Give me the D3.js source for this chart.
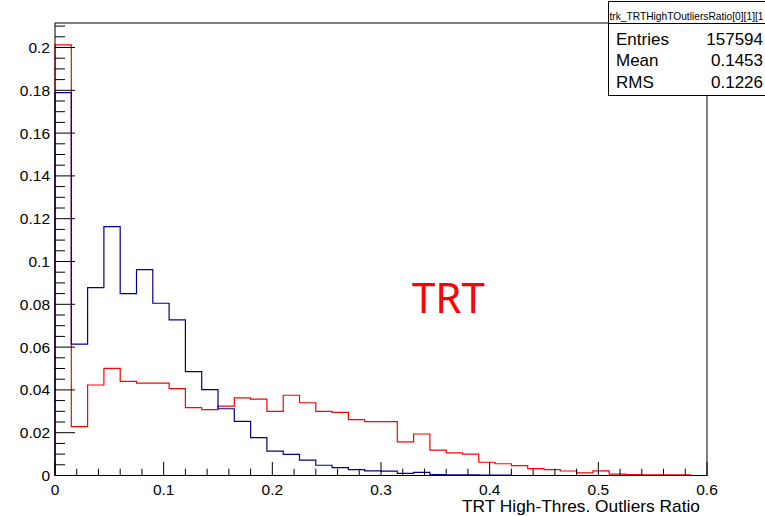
<!DOCTYPE html>
<html><head><meta charset="utf-8">
<script src="https://cdn.jsdelivr.net/npm/d3@7"></script>
<style>body{margin:0;background:#fff}svg{display:block}</style>
</head><body><svg id="c" width="765" height="516" font-family="'Liberation Sans',Arial,sans-serif"></svg>
<script>
const binWidth = 0.015;
const xTickLabels = ["0","0.1","0.2","0.3","0.4","0.5","0.6"];
const yTickLabels = ["0","0.02","0.04","0.06","0.08","0.1","0.12","0.14","0.16","0.18","0.2"];
const redValues = [0.2012,0.0228,0.0423,0.0501,0.0440,0.0432,0.0432,0.0406,0.0317,0.0308,
  0.0324,0.0363,0.0357,0.0300,0.0375,0.0340,0.0300,0.0295,0.0261,0.0252,
  0.0252,0.0157,0.0194,0.0119,0.0106,0.0100,0.0062,0.0055,0.0046,0.0032,
  0.0027,0.0021,0.0012,0.0022,0.0006,0.0004,0.0003,0.0003,0.0003,0];
const blueValues = [0.1789,0.0614,0.0878,0.1163,0.0850,0.0962,0.0805,0.0727,0.0485,0.0401,
  0.0312,0.0253,0.0177,0.0114,0.0099,0.0072,0.0048,0.0037,0.0027,0.0022,
  0.0020,0.0010,0.0015,0.0004,0.0003,0.0003,0.0002,0.0002,0,0,
  0,0,0,0,0,0,0,0,0,0];
const statsTitle = "trk_TRTHighTOutliersRatio[0][1][1";
const statsRows = [["Entries","157594"],["Mean","0.1453"],["RMS","0.1226"]];

const svg = d3.select("#c");
const L=55,R=707,T=23,B=475.5;
const x = d3.scaleLinear().domain([0,0.6]).range([L,R]);
const y = d3.scaleLinear().domain([0,0.21145]).range([B,T]);

function histPath(vals){
  const pts=[[0,0]];
  vals.forEach((v,i)=>{pts.push([i*binWidth,v]);pts.push([(i+1)*binWidth,v]);});
  pts.push([vals.length*binWidth,0]);
  return d3.line().x(d=>x(d[0])).y(d=>y(d[1]))(pts);
}
svg.append("path").attr("d",histPath(redValues)).attr("fill","none").attr("stroke","#ff0000").attr("stroke-width",1.2);
svg.append("path").attr("d",histPath(blueValues)).attr("fill","none").attr("stroke","#000099").attr("stroke-width",1.2);

svg.append("rect").attr("x",L).attr("y",T).attr("width",R-L).attr("height",B-T)
  .attr("fill","none").attr("stroke","#000").attr("stroke-width",1);

const g = svg.append("g").attr("stroke","#000").attr("stroke-width",1);
d3.range(0,31).forEach(i=>{
  const v=i*0.02, major = i%5===0;
  g.append("line").attr("x1",x(v)).attr("x2",x(v)).attr("y1",B).attr("y2",B-(major?13.5:6.8));
});
xTickLabels.forEach(t=>{
  svg.append("text").attr("x",x(+t)).attr("y",494.5).attr("text-anchor","middle")
    .attr("font-size",15.5).attr("fill","#000").text(t);
});
d3.range(0,43).forEach(i=>{
  const v=i*0.005; if(v>0.2114) return;
  const major = i%4===0;
  g.append("line").attr("x1",L).attr("x2",L+(major?20:10)).attr("y1",y(v)).attr("y2",y(v));
});
yTickLabels.forEach(t=>{
  svg.append("text").attr("x",50).attr("y",y(+t)+5.5).attr("text-anchor","end")
    .attr("font-size",15.5).attr("fill","#000").text(t);
});
svg.append("text").attr("x",462).attr("y",512).attr("textLength",238).attr("lengthAdjust","spacingAndGlyphs")
  .attr("font-size",17).attr("fill","#000").text("TRT High-Thres. Outliers Ratio");

svg.append("text").attr("x",412).attr("y",313).attr("font-family","'Noto Sans','Open Sans',sans-serif")
  .attr("font-size",42).attr("fill","#ff0000").text("TRT");

const sb = svg.append("g");
sb.append("rect").attr("x",608.5).attr("y",1.5).attr("width",200).attr("height",94)
  .attr("fill","#fff").attr("stroke","#000").attr("stroke-width",1);
sb.append("line").attr("x1",608.5).attr("x2",808).attr("y1",23.5).attr("y2",23.5).attr("stroke","#000");
sb.append("text").attr("x",609.5).attr("y",19.5).attr("font-size",11.5)
  .attr("textLength",154).attr("lengthAdjust","spacingAndGlyphs").attr("fill","#000").text(statsTitle);
statsRows.forEach((r,i)=>{
  const by = 45 + i*21.3;
  sb.append("text").attr("x",616).attr("y",by).attr("font-size",17).attr("fill","#000").text(r[0]);
  sb.append("text").attr("x",763).attr("y",by).attr("text-anchor","end").attr("font-size",17).attr("fill","#000").text(r[1]);
});
</script></body></html>
